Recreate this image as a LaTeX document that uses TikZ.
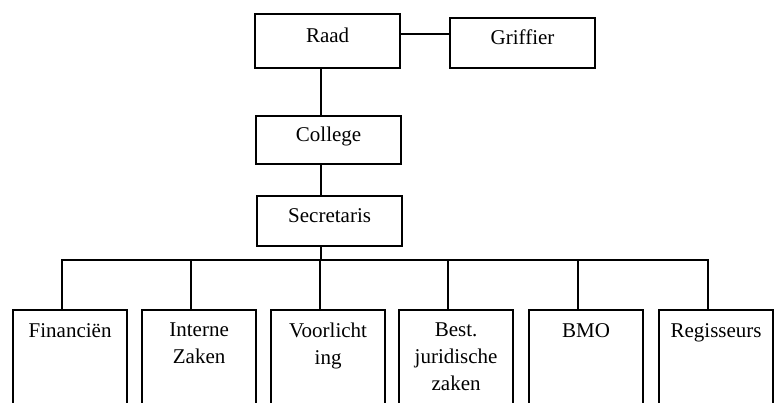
\documentclass[tikz,border=0pt]{standalone}
\usepackage{fontspec}
\setmainfont{Liberation Serif}
\newcommand\unitlabel[1]{\parbox[t][110pt][t]{114pt}{\centering #1}}
\begin{document}
\begin{tikzpicture}[x=1pt,y=-1pt,
  topbox/.style={draw, line width=2.2pt, minimum width=145pt, minimum height=50pt,
    inner sep=0pt, anchor=north west, text height=14pt, text depth=11pt,
    font=\fontsize{21}{26}\selectfont},
  unitbox/.style={draw, line width=2.2pt, inner xsep=0pt, inner ysep=13pt,
    anchor=north west, font=\fontsize{21}{27}\selectfont},
  link/.style={line width=1.8pt}]
\useasboundingbox (0,0) rectangle (779,403);
\clip (0,0) rectangle (779,403);

\node[topbox, minimum height=54pt] (raad) at (254,13) {Raad};
\node[topbox] (griffier) at (449,17) {Griffier};
\node[topbox, minimum height=48pt] (college) at (255,115) {College};
\node[topbox] (secr) at (256,195) {Secretaris};

\node[unitbox] (b1) at (12,309) {\unitlabel{Financiën}};
\node[unitbox] (b2) at (141,309) {\unitlabel{Interne\\Zaken}};
\node[unitbox] (b3) at (270,309) {\unitlabel{Voorlicht\\ing}};
\node[unitbox] (b4) at (398,309) {\unitlabel{Best.\\juridische\\zaken}};
\node[unitbox] (b5) at (528,309) {\unitlabel{BMO}};
\node[unitbox] (b6) at (658,309) {\unitlabel{Regisseurs}};

\coordinate (bus) at (320,260);

\draw[link] ([yshift=7pt]raad.east) -- ([yshift=7pt]raad.east -| griffier.west);
\draw[link] ([xshift=-7pt]raad.south) -- ([xshift=-7pt]raad.south |- college.north);
\draw[link] ([xshift=-8pt]college.south) -- ([xshift=-8pt]college.south |- secr.north);
\draw[link] ([xshift=-9pt]secr.south) -- ([xshift=-9pt]secr.south |- bus);
\draw[link] ([xshift=-8pt]b1.north) -- ([xshift=-8pt]b1.north |- bus)
  -- ([xshift=-8pt]b6.north |- bus) -- ([xshift=-8pt]b6.north);
\foreach \b in {b2,b3,b4,b5}
  \draw[link] ([xshift=-8pt]\b.north) -- ([xshift=-8pt]\b.north |- bus);
\end{tikzpicture}
\end{document}
